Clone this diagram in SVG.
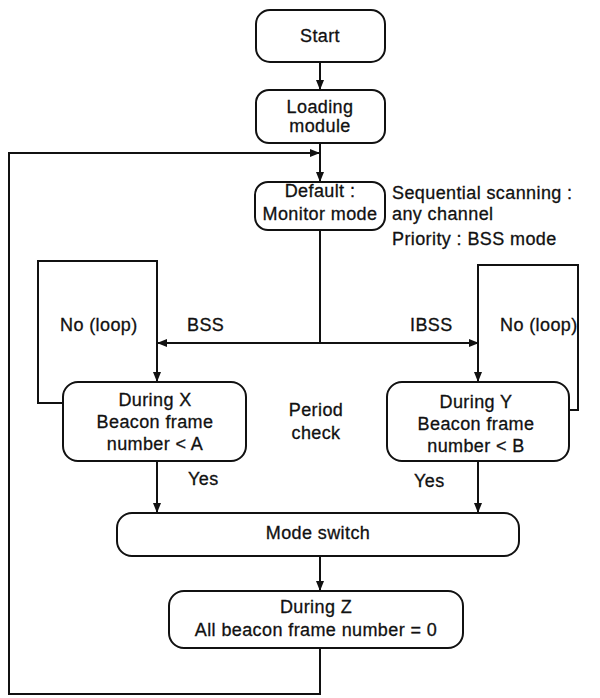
<svg xmlns="http://www.w3.org/2000/svg" width="600" height="698" viewBox="0 0 600 698">
<defs>
<marker id="ah" markerWidth="10" markerHeight="10" refX="9" refY="5" orient="auto" markerUnits="userSpaceOnUse">
<path d="M0,1 L10,5 L0,9 Z" fill="#111"/>
</marker>
<style>
.box{fill:#fff;stroke:#111;stroke-width:2}
.t{font-family:"Liberation Sans",Arial,sans-serif;font-size:18px;letter-spacing:0.4px;fill:#111;stroke:#111;stroke-width:0.3;text-anchor:middle}
.l{font-family:"Liberation Sans",Arial,sans-serif;font-size:18px;letter-spacing:0.4px;fill:#111;stroke:#111;stroke-width:0.3}
.c{fill:none;stroke:#111;stroke-width:2}
</style>
</defs>
<rect width="600" height="698" fill="#fff"/>
<g id="connectors">
<path class="c" d="M320,62 V89" marker-end="url(#ah)"/>
<path class="c" d="M320,143 V181" marker-end="url(#ah)"/>
<path class="c" d="M320,648 V694 H9 V153 H319" marker-end="url(#ah)"/>
<path class="c" d="M320,230 V343"/>
<path class="c" d="M320,343 H158" marker-end="url(#ah)"/>
<path class="c" d="M320,343 H478" marker-end="url(#ah)"/>
<path class="c" d="M63,403 H38 V261 H157 V381" marker-end="url(#ah)"/>
<path class="c" d="M569,410 H578 V265 H478 V381" marker-end="url(#ah)"/>
<path class="c" d="M157,461 V512" marker-end="url(#ah)"/>
<path class="c" d="M478,461 V512" marker-end="url(#ah)"/>
<path class="c" d="M320,556 V590" marker-end="url(#ah)"/>
</g>
<g id="start"><rect class="box" x="256" y="10" width="129" height="52" rx="14"/><text class="t" x="320" y="42">Start</text></g>
<g id="loading"><rect class="box" x="256" y="90" width="129" height="53" rx="13"/><text class="t" x="320" y="113">Loading</text><text class="t" x="320" y="132">module</text></g>
<g id="default"><rect class="box" x="255" y="182" width="130" height="48" rx="13"/><text class="t" x="320" y="197">Default :</text><text class="t" x="320" y="220">Monitor mode</text></g>
<g id="note"><text class="l" x="392" y="199">Sequential scanning :</text><text class="l" x="392" y="220">any channel</text><text class="l" x="392" y="245">Priority : BSS mode</text></g>
<g id="labels"><text class="l" x="60" y="331">No (loop)</text><text class="l" x="187" y="331">BSS</text><text class="l" x="410" y="331">IBSS</text><text class="l" x="500" y="331">No (loop)</text><text class="t" x="316" y="416">Period</text><text class="t" x="316" y="439">check</text><text class="l" x="188" y="485">Yes</text><text class="l" x="414" y="487">Yes</text></g>
<g id="boxX"><rect class="box" x="63" y="382" width="183" height="79" rx="15"/><text class="t" x="155" y="406">During X</text><text class="t" x="155" y="428">Beacon frame</text><text class="t" x="155" y="450">number &lt; A</text></g>
<g id="boxY"><rect class="box" x="387" y="382" width="182" height="79" rx="15"/><text class="t" x="476" y="408">During Y</text><text class="t" x="476" y="430">Beacon frame</text><text class="t" x="476" y="452">number &lt; B</text></g>
<g id="mode"><rect class="box" x="117" y="513" width="402" height="43" rx="15"/><text class="t" x="318" y="539">Mode switch</text></g>
<g id="boxZ"><rect class="box" x="169" y="591" width="294" height="57" rx="15"/><text class="t" x="316" y="613">During Z</text><text class="t" x="316" y="636">All beacon frame number = 0</text></g>
</svg>
